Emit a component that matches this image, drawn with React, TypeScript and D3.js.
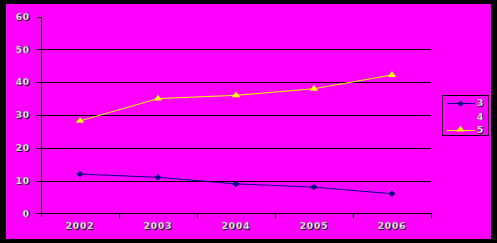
import React from "react";
import * as d3 from "d3";

const categories = ["2002", "2003", "2004", "2005", "2006"];
const series3 = [12, 11, 9, 8, 6];
const series5 = [28.2, 35, 36, 38, 42.2];
const yTicks = [0, 10, 20, 30, 40, 50, 60];
const legendLabels = ["3", "4", "5"];

const W = 497;
const H = 243;
const MAGENTA = "#FF00FF";
const NAVY = "#000080";
const YELLOW = "#FFFF00";

function Label({ x, y, text, anchor }: { x: number; y: number; text: string; anchor: "start" | "middle" | "end" }) {
  const common = {
    fontFamily: "DejaVu Sans",
    fontWeight: 700 as const,
    fontSize: 9,
    textAnchor: anchor,
    letterSpacing: 0.9,
  };
  return (
    <g>
      <text x={x + 0.8} y={y + 0.8} fill="#000" {...common}>{text}</text>
      <text x={x} y={y} fill="#fff" stroke="#666" strokeWidth={0.3} {...common}>{text}</text>
    </g>
  );
}

export default function App() {
  const x = d3.scaleBand<string>().domain(categories).range([41, 431]);
  const cx = (c: string) => (x(c) as number) + x.bandwidth() / 2;
  const y = d3.scaleLinear().domain([0, 60]).range([213.4, 16.6]);
  const py = (v: number) => Math.round(y(v)) + 0.5;

  const line = d3
    .line<number>()
    .x((_, i) => cx(categories[i]))
    .y((d) => y(d));

  const tri = d3.symbol().type(d3.symbolTriangle).size(24)() as string;
  const dia = d3.symbol().type(d3.symbolDiamond).size(20)() as string;

  const Diamond = ({ px, pyy }: { px: number; pyy: number }) => (
    <g transform={`translate(${px},${pyy})`}>
      <path d={dia} transform="scale(1.5,0.75)" fill={NAVY} />
      <line x1={0} x2={0} y1={-2.5} y2={2.5} stroke={NAVY} strokeWidth={1} />
    </g>
  );
  const Tri = ({ px, pyy }: { px: number; pyy: number }) => (
    <path d={tri} transform={`translate(${px},${pyy}) scale(1.15,0.9)`} fill={YELLOW} />
  );

  const axisX = 41.5;
  const baseY = py(0);

  const legendX = 442;
  const legendY = 95;
  const legendRows = [102.5, 116, 129.5];
  const legendColors = [NAVY, MAGENTA, YELLOW];

  return (
    <svg
      width={W}
      height={H}
      style={{ position: "fixed", left: 0, top: 0, display: "block" }}
      shapeRendering="crispEdges"
    >
      <rect x={0} y={0} width={W} height={H} fill="#000" />
      <rect x={6} y={4} width={485} height={235} fill={MAGENTA} />

      {yTicks
        .filter((t) => t > 0 && t < 60)
        .map((t) => (
          <line key={t} x1={axisX} x2={431} y1={py(t)} y2={py(t)} stroke="#000" strokeWidth={1} />
        ))}

      <line x1={axisX} x2={axisX} y1={py(60)} y2={baseY + 3.5} stroke="#000" />
      {yTicks.map((t) => (
        <line key={t} x1={37} x2={axisX} y1={py(t)} y2={py(t)} stroke="#000" />
      ))}
      {yTicks.map((t) => (
        <Label key={t} x={30} y={y(t) + 3.2} text={String(t)} anchor="end" />
      ))}

      <line x1={37} x2={431.5} y1={baseY} y2={baseY} stroke="#000" />
      {categories.map((c) => (
        <line
          key={c}
          x1={Math.round((x(c) as number) + x.bandwidth()) + 0.5}
          x2={Math.round((x(c) as number) + x.bandwidth()) + 0.5}
          y1={baseY}
          y2={baseY + 4}
          stroke="#000"
        />
      ))}
      {categories.map((c) => (
        <Label key={c} x={cx(c)} y={229} text={c} anchor="middle" />
      ))}

      <path d={line(series3) as string} fill="none" stroke={NAVY} strokeWidth={1} shapeRendering="auto" />
      <path d={line(series5) as string} fill="none" stroke={YELLOW} strokeWidth={1} shapeRendering="auto" />
      <g shapeRendering="auto">
        {series3.map((v, i) => (
          <Diamond key={i} px={cx(categories[i])} pyy={y(v)} />
        ))}
        {series5.map((v, i) => (
          <Tri key={i} px={cx(categories[i])} pyy={y(v)} />
        ))}
      </g>

      <rect x={legendX + 0.5} y={legendY + 0.5} width={46} height={40} fill="none" stroke="#000" />
      {legendLabels.map((l, i) => (
        <g key={l}>
          <line x1={447} x2={475} y1={Math.round(legendRows[i]) + 0.5} y2={Math.round(legendRows[i]) + 0.5} stroke={legendColors[i]} />
          {i === 0 && (
            <g shapeRendering="auto">
              <Diamond px={460.5} pyy={Math.round(legendRows[i]) + 0.5} />
            </g>
          )}
          {i === 2 && (
            <g shapeRendering="auto">
              <Tri px={460.5} pyy={Math.round(legendRows[i]) - 0.5} />
            </g>
          )}
          <Label x={477} y={legendRows[i] + 3.5} text={l} anchor="start" />
        </g>
      ))}
    </svg>
  );
}
